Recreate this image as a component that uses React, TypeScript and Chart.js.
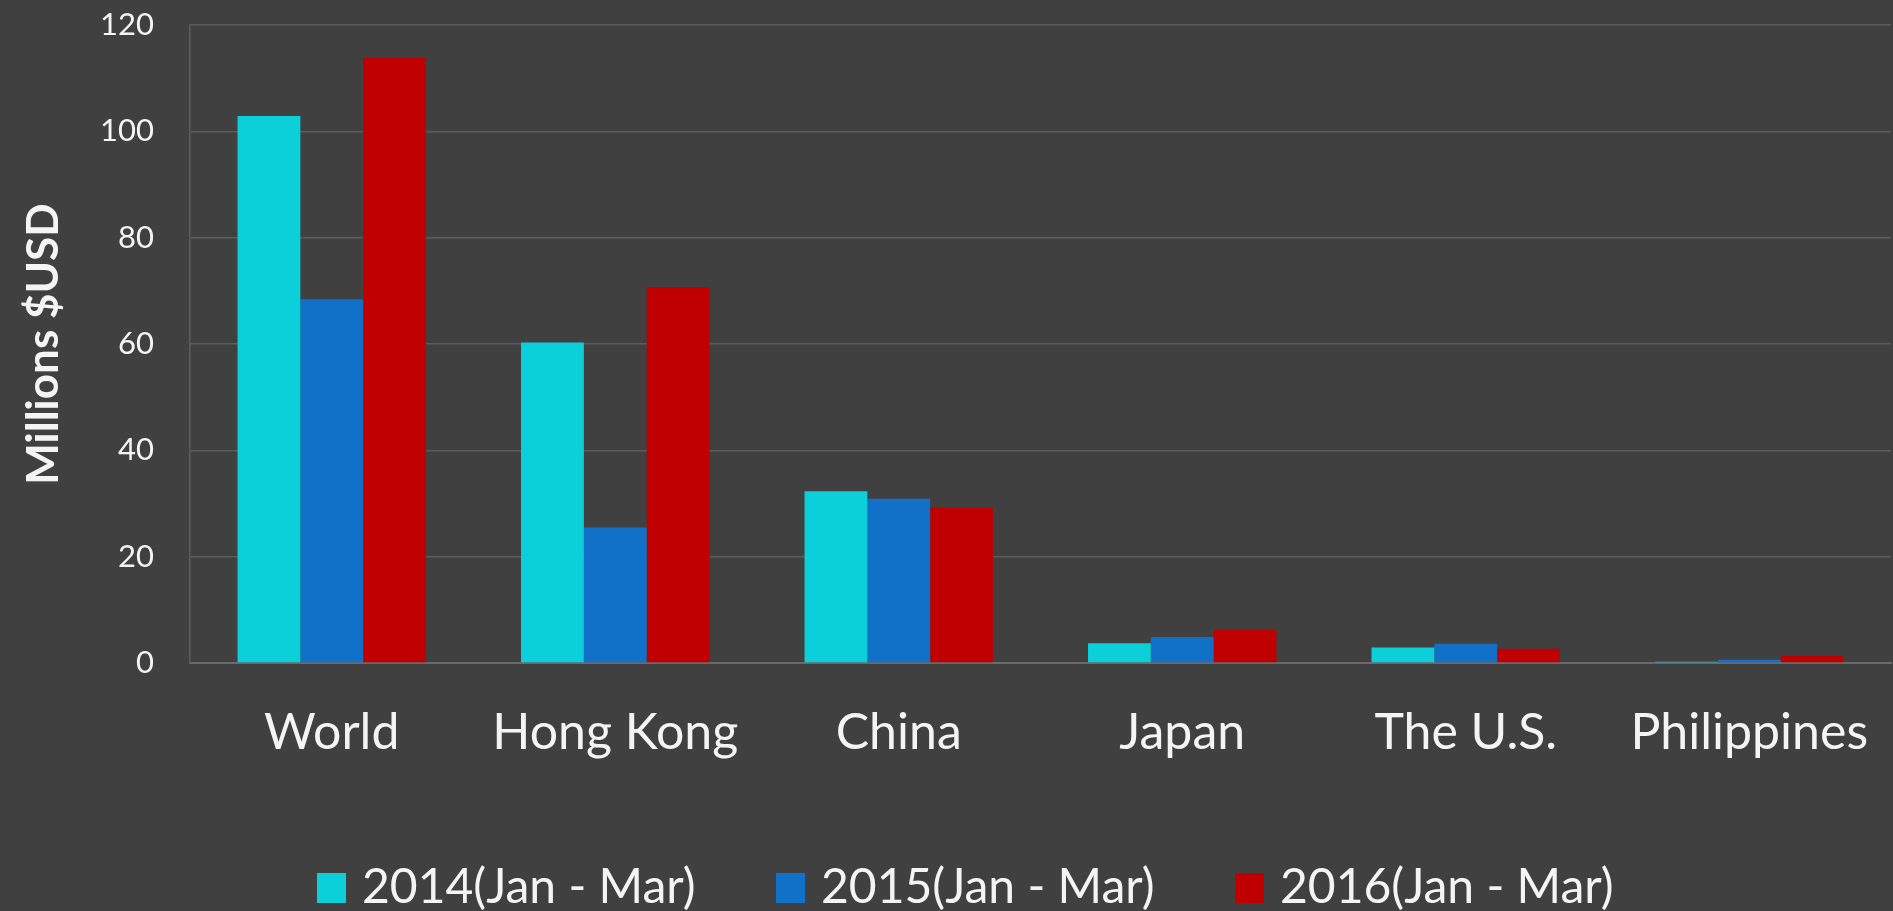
import React, { useEffect, useRef } from "react";
import { Chart, registerables } from "chart.js";

Chart.register(...registerables);

const categories = ["World", "Hong Kong", "China", "Japan", "The U.S.", "Philippines"];
const seriesLabels = ["2014(Jan - Mar)", "2015(Jan - Mar)", "2016(Jan - Mar)"];
const values2014 = [102.9, 60.3, 32.3, 3.7, 2.9, 0.25];
const values2015 = [68.4, 25.5, 30.9, 4.9, 3.6, 0.6];
const values2016 = [113.8, 70.7, 29.3, 6.2, 2.7, 1.4];
const seriesColors = ["#0CD0D9", "#1171C8", "#C00000"];
const yTickValues = [0, 20, 40, 60, 80, 100, 120];
const yTitle = "Millions $USD";

const BG = "#404040";
const TEXT = "#f4f4f4";

const legendPlugin = {
  id: "bottomLegend",
  afterDraw(chart: any) {
    const ctx = chart.ctx as CanvasRenderingContext2D;
    ctx.save();
    ctx.font = "48px Lato";
    ctx.textBaseline = "alphabetic";
    ctx.textAlign = "left";
    let x = 317;
    chart.data.datasets.forEach((ds: any) => {
      ctx.fillStyle = ds.backgroundColor;
      ctx.fillRect(x, 873, 29, 30);
      ctx.fillStyle = TEXT;
      ctx.fillText(ds.label, x + 45, 903);
      x += 459;
    });
    ctx.restore();
  },
};

const bgPlugin = {
  id: "bgFill",
  beforeDraw(chart: any) {
    const ctx = chart.ctx as CanvasRenderingContext2D;
    ctx.save();
    ctx.fillStyle = BG;
    ctx.fillRect(0, 0, chart.width, chart.height);
    ctx.restore();
  },
};

export default function App() {
  const canvasRef = useRef<HTMLCanvasElement | null>(null);

  useEffect(() => {
    if (!canvasRef.current) return;
    const seriesValues = [values2014, values2015, values2016];
    const chart = new Chart(canvasRef.current, {
      type: "bar",
      data: {
        labels: categories,
        datasets: seriesLabels.map((label, i) => ({
          label,
          data: seriesValues[i],
          backgroundColor: seriesColors[i],
          borderWidth: 0,
          barPercentage: 1,
          categoryPercentage: 0.6646,
        })),
      },
      options: {
        animation: false,
        responsive: false,
        maintainAspectRatio: false,
        devicePixelRatio: 1,
        layout: { padding: { left: 0, right: 2, top: 25, bottom: 0 } },
        plugins: {
          legend: { display: false },
          tooltip: { enabled: false },
          title: { display: false },
        },
        scales: {
          x: {
            afterFit: (scale: any) => {
              scale.height = 248;
              scale.paddingLeft = 0;
              scale.paddingRight = 0;
            },
            grid: { display: false, drawTicks: false },
            border: { display: true, color: "#6a6a6a", width: 2 },
            ticks: {
              color: TEXT,
              font: { family: "Lato", size: 50 },
              padding: 40,
              maxRotation: 0,
              autoSkip: false,
            },
          },
          y: {
            min: 0,
            max: 120,
            afterFit: (scale: any) => {
              scale.width = 190;
              scale.paddingTop = 0;
              scale.paddingBottom = 0;
            },
            afterBuildTicks: (scale: any) => {
              scale.ticks = yTickValues.map((v) => ({ value: v }));
            },
            grid: { color: "#5c5c5c", lineWidth: 1.5, drawTicks: false },
            border: { display: true, color: "#5c5c5c", width: 1.5 },
            ticks: {
              color: TEXT,
              font: { family: "Lato", size: 31 },
              padding: 36,
            },
            title: {
              display: true,
              text: yTitle,
              color: TEXT,
              font: { family: "Lato", size: 44, weight: "bold" },
              padding: { top: 17, bottom: 0 },
            },
          },
        },
      },
      plugins: [bgPlugin, legendPlugin],
    });
    return () => chart.destroy();
  }, []);

  return (
    <div style={{ position: "fixed", left: 0, top: 0, width: 1893, height: 911, background: BG }}>
      <canvas ref={canvasRef} width={1893} height={911} style={{ display: "block", width: 1893, height: 911 }} />
    </div>
  );
}
